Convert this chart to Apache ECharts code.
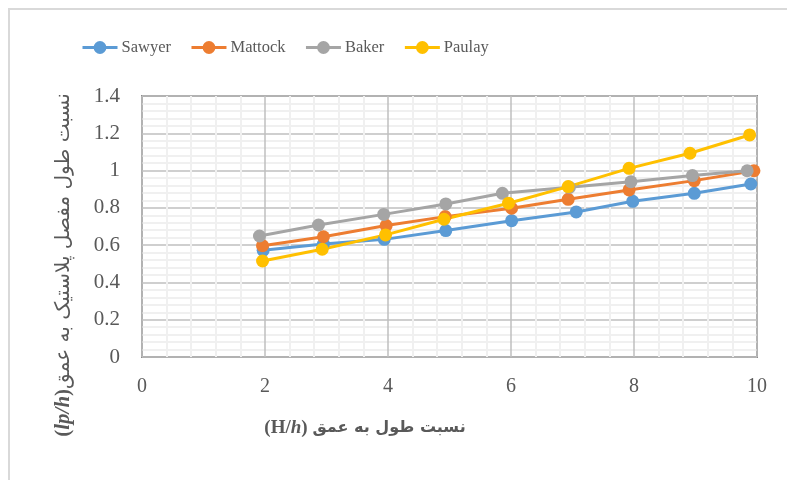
<!DOCTYPE html>
<html>
<head>
<meta charset="utf-8">
<title>Plastic hinge length ratio</title>
<script src="https://cdn.jsdelivr.net/npm/echarts@6/dist/echarts.min.js"></script>
<style>
  html, body { margin: 0; padding: 0; background: #fff; }
  #chart { width: 787px; height: 480px; }
</style>
</head>
<body>
<div id="chart"></div>
<script>
// series data (x = H/h, y = lp/h)
const seriesNames = ['Sawyer', 'Mattock', 'Baker', 'Paulay']
const seriesColors = ['#5B9BD5', '#ED7D31', '#A5A5A5', '#FFC000']

const sawyerX = [1.97, 2.95, 3.94, 4.94, 6.01, 7.06, 7.98, 8.98, 9.9]
const sawyerY = [0.572, 0.606, 0.631, 0.678, 0.731, 0.778, 0.835, 0.878, 0.928]
const mattockX = [1.96, 2.95, 3.97, 4.93, 6.01, 6.93, 7.92, 8.98, 9.95]
const mattockY = [0.597, 0.645, 0.705, 0.753, 0.798, 0.846, 0.896, 0.946, 0.999]
const bakerX = [1.91, 2.87, 3.93, 4.94, 5.86, 6.95, 7.95, 8.95, 9.84]
const bakerY = [0.649, 0.708, 0.765, 0.821, 0.878, 0.91, 0.94, 0.973, 0.999]
const paulayX = [1.96, 2.93, 3.96, 4.91, 5.96, 6.93, 7.92, 8.91, 9.88]
const paulayY = [0.515, 0.578, 0.655, 0.739, 0.825, 0.914, 1.012, 1.093, 1.191]

const xs = [sawyerX, mattockX, bakerX, paulayX]
const ys = [sawyerY, mattockY, bakerY, paulayY]

// axis titles
const xTitleFa = 'نسبت طول به عمق'
const yTitleFa = 'نسبت طول مفصل پلاستیک به عمق'

const chart = echarts.init(document.getElementById('chart'))

const serif = '"Liberation Serif", "DejaVu Sans", serif'
const gridLine = '#bfbfbf'
const minorLine = '#f0f0f0'

const option = {
  animation: false,
  backgroundColor: '#fff',
  textStyle: { fontFamily: serif, color: '#595959' },
  legend: {
    data: seriesNames,
    left: 76,
    top: 34,
    itemWidth: 35,
    itemHeight: 16,
    itemGap: 19,
    lineStyle: { width: 3 },
    textStyle: { fontFamily: serif, fontSize: 16.5, color: '#595959', padding: [0, 0, 0, -1] }
  },
  grid: {
    left: 142,
    right: 30,
    top: 96,
    bottom: 123,
    show: true,
    borderColor: '#8c8c8c',
    borderWidth: 2
  },
  xAxis: {
    type: 'value',
    min: 0,
    max: 10,
    interval: 2,
    axisLine: { show: false },
    axisTick: { show: false },
    axisLabel: { fontSize: 20, color: '#595959', margin: 20 },
    splitLine: { lineStyle: { color: gridLine, width: 1.5 } },
    minorTick: { show: false, splitNumber: 5 },
    minorSplitLine: { show: true, lineStyle: { color: minorLine, width: 2 } }
  },
  yAxis: {
    type: 'value',
    min: 0,
    max: 1.4,
    interval: 0.2,
    axisLine: { show: false },
    axisTick: { show: false },
    axisLabel: { fontSize: 21, color: '#595959', margin: 22 },
    splitLine: { lineStyle: { color: gridLine, width: 1.5 } },
    minorTick: { show: false, splitNumber: 5 },
    minorSplitLine: { show: true, lineStyle: { color: minorLine, width: 2 } }
  },
  graphic: [
    // light frame round the chart, clipped at the right and bottom edges
    {
      type: 'rect',
      shape: { x: 9, y: 9, width: 800, height: 500 },
      style: { fill: 'none', stroke: '#d9d9d9', lineWidth: 2 },
      silent: true
    },
    // x axis title
    {
      type: 'text',
      x: 365,
      y: 428,
      style: {
        text: '{b|(H/}{bi|h}{b|) }{fa|' + xTitleFa + '}',
        align: 'center',
        verticalAlign: 'middle',
        fill: '#595959',
        rich: {
          b: { fontFamily: serif, fontWeight: 'bold', fontSize: 19, fill: '#595959' },
          bi: { fontFamily: serif, fontWeight: 'bold', fontStyle: 'italic', fontSize: 19, fill: '#595959' },
          fa: { fontFamily: '"DejaVu Sans", sans-serif', fontWeight: 'bold', fontSize: 16, fill: '#595959' }
        }
      }
    },
    // y axis title, rotated
    {
      type: 'text',
      x: 64,
      y: 265,
      rotation: Math.PI / 2,
      style: {
        text: '{b|(}{bi|lp/h}{b|)}{fa|' + yTitleFa + '}',
        align: 'center',
        verticalAlign: 'middle',
        fill: '#595959',
        rich: {
          b: { fontFamily: serif, fontWeight: 'bold', fontSize: 21, fill: '#595959' },
          bi: { fontFamily: serif, fontWeight: 'bold', fontStyle: 'italic', fontSize: 21, fill: '#595959' },
          fa: { fontFamily: '"DejaVu Sans", sans-serif', fontSize: 20, fill: '#595959' }
        }
      }
    }
  ],
  series: seriesNames.map((name, i) => ({
    name: name,
    type: 'line',
    data: xs[i].map((x, j) => [x, ys[i][j]]),
    symbol: 'circle',
    symbolSize: 13,
    color: seriesColors[i],
    lineStyle: { width: 3, color: seriesColors[i] },
    itemStyle: { color: seriesColors[i] }
  }))
}

chart.setOption(option)
</script>
</body>
</html>
